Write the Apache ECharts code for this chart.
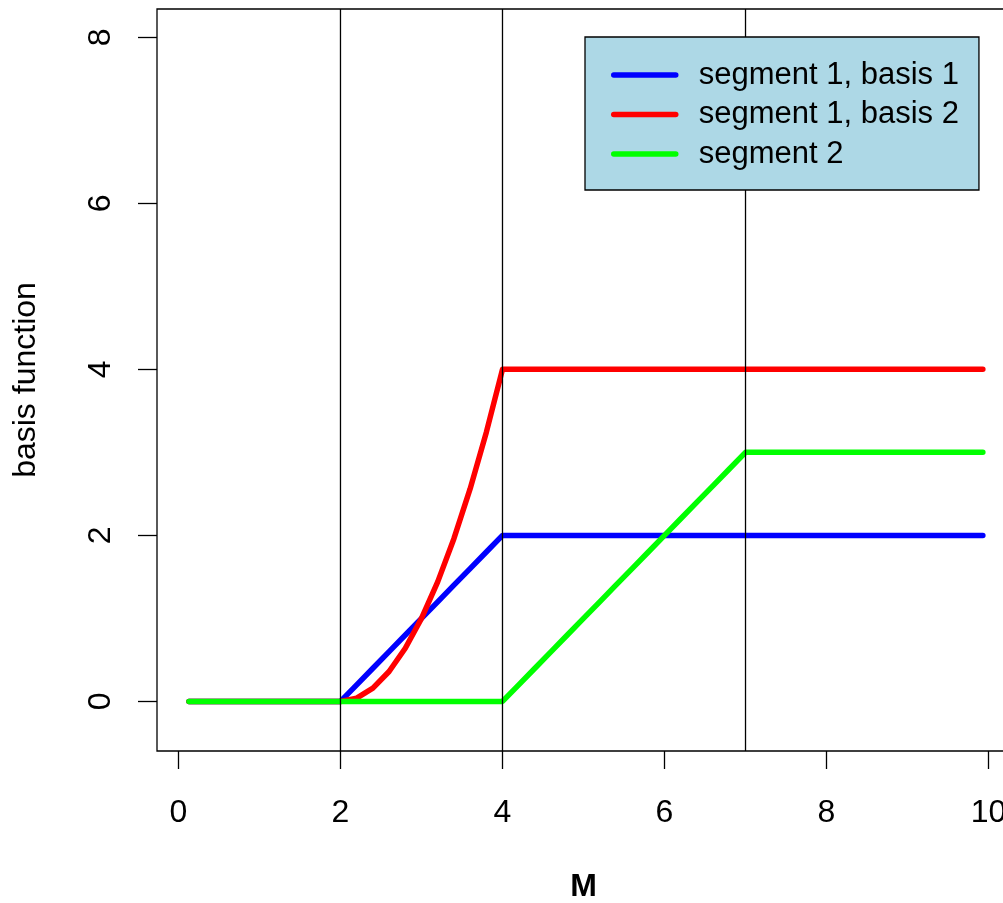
<!DOCTYPE html>
<html>
<head>
<meta charset="utf-8">
<script src="https://cdn.jsdelivr.net/npm/echarts@6/dist/echarts.min.js"></script>
<style>
  html, body { margin: 0; padding: 0; background: #fff; }
  #main { width: 1003px; height: 903px; }
</style>
</head>
<body>
<div id="main"></div>
<script>
// M values where the basis functions were sampled
var M = [0.13, 2.0, 2.2, 2.4, 2.6, 2.8, 3.0, 3.2, 3.4, 3.6, 3.8, 4.0,
         4.2, 4.4, 4.6, 4.8, 5.0, 5.2, 5.4, 5.6, 5.8, 6.0, 6.2, 6.4, 6.6, 6.8, 7.0, 9.93];
// segment 1, basis 1
var seg1b1 = [0, 0, 0.2, 0.4, 0.6, 0.8, 1.0, 1.2, 1.4, 1.6, 1.8, 2.0,
              2, 2, 2, 2, 2, 2, 2, 2, 2, 2, 2, 2, 2, 2, 2, 2];
// segment 1, basis 2
var seg1b2 = [0, 0, 0.04, 0.16, 0.36, 0.64, 1.0, 1.44, 1.96, 2.56, 3.24, 4.0,
              4, 4, 4, 4, 4, 4, 4, 4, 4, 4, 4, 4, 4, 4, 4, 4];
// segment 2
var seg2 = [0, 0, 0, 0, 0, 0, 0, 0, 0, 0, 0, 0,
            0.2, 0.4, 0.6, 0.8, 1.0, 1.2, 1.4, 1.6, 1.8, 2.0, 2.2, 2.4, 2.6, 2.8, 3.0, 3];
var knots = [2, 4, 7];
var xTicks = [0, 2, 4, 6, 8, 10];
var yTicks = [0, 2, 4, 6, 8];

var X_MIN = -0.265, X_MAX = 10.265;
var Y_MIN = -0.597, Y_MAX = 8.34;
var FONT = 'Liberation Sans, Arial, sans-serif';

function pairs(ys) {
    var out = [];
    for (var i = 0; i < M.length; i++) {
        out.push([M[i], ys[i]]);
    }
    return out;
}

function lineSeries(name, color, ys) {
    return {
        name: name,
        type: 'line',
        data: pairs(ys),
        symbol: 'none',
        lineStyle: { color: color, width: 5.5, cap: 'round', join: 'round' },
        itemStyle: { color: color },
        z: 2
    };
}

//竖线 (knots)
function knotSeries(k) {
    return {
        name: 'knot ' + k,
        type: 'line',
        data: [[k, Y_MIN], [k, Y_MAX]],
        symbol: 'none',
        silent: true,
        lineStyle: { color: '#000', width: 1.3 },
        z: 3
    };
}

var myChart = echarts.init(document.getElementById('main'));
var series = [
    lineSeries('segment 1, basis 1', '#0000FF', seg1b1),
    lineSeries('segment 1, basis 2', '#FF0000', seg1b2),
    lineSeries('segment 2', '#00FF00', seg2)
];
for (var i = 0; i < knots.length; i++) {
    series.push(knotSeries(knots[i]));
}
var option = {
    animation: false,
    backgroundColor: '#fff',
    grid: {
        show: true,
        left: 157,
        top: 9,
        width: 853,
        height: 742,
        outerBoundsMode: 'none',
        containLabel: false,
        borderColor: '#000',
        borderWidth: 1.3,
        backgroundColor: 'transparent'
    },
    legend: {
        data: ['segment 1, basis 1', 'segment 1, basis 2', 'segment 2'],
        orient: 'vertical',
        left: 585,
        top: 37,
        zlevel: 1,
        z: 10,
        backgroundColor: '#ADD8E6',
        borderColor: '#000',
        borderWidth: 1.3,
        borderRadius: 0,
        padding: [22, 20, 20, 26],
        itemGap: 7.5,
        itemWidth: 62,
        itemHeight: 14,
        itemStyle: { color: 'rgba(0,0,0,0)', borderWidth: 0, opacity: 0 },
        lineStyle: { width: 5.5, cap: 'round' },
        textStyle: { fontFamily: FONT, fontSize: 31, color: '#000', lineHeight: 32, padding: [0, 0, 0, 18] }
    },
    xAxis: {
        type: 'value',
        min: X_MIN,
        max: X_MAX,
        name: 'M',
        nameLocation: 'middle',
        nameGap: 120,
        nameTextStyle: { fontFamily: FONT, fontSize: 32, fontWeight: 'bold', color: '#000' },
        axisLine: { show: false, onZero: false },
        splitLine: { show: false },
        axisTick: { show: true, length: 18, inside: false, customValues: xTicks, lineStyle: { color: '#000', width: 1.3 } },
        axisLabel: { customValues: xTicks, margin: 46, fontFamily: FONT, fontSize: 32, color: '#000' }
    },
    yAxis: {
        type: 'value',
        min: Y_MIN,
        max: Y_MAX,
        name: 'basis function',
        nameLocation: 'middle',
        nameGap: 115,
        nameTextStyle: { fontFamily: FONT, fontSize: 32, color: '#000' },
        axisLine: { show: false, onZero: false },
        splitLine: { show: false },
        axisTick: { show: true, length: 19, inside: false, customValues: yTicks, lineStyle: { color: '#000', width: 1.3 } },
        axisLabel: { customValues: yTicks, rotate: 90, margin: 40, fontFamily: FONT, fontSize: 32, color: '#000' }
    },
    series: series
};
myChart.setOption(option);
</script>
</body>
</html>
